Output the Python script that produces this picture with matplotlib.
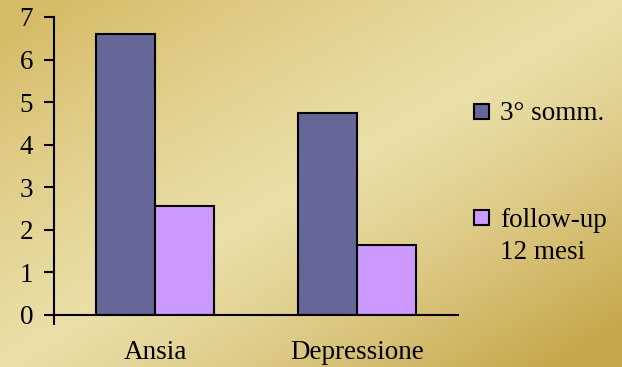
import numpy as np
import matplotlib
matplotlib.use('Agg')
import matplotlib.pyplot as plt
from matplotlib.patches import Rectangle

categories = ['Ansia', 'Depressione']
series_names = ['3° somm.', 'follow-up\n12 mesi']
baseline = [6.6, 4.75]
followup = [2.55, 1.65]
colors = ['#666699', '#cc99ff']
yticks = [0, 1, 2, 3, 4, 5, 6, 7]

plt.rcParams['font.family'] = ['Liberation Serif', 'DejaVu Serif']
fs = 19.5

fig = plt.figure(figsize=(6.22, 3.67), dpi=100)

# gold background, lighter along the diagonal from bottom-left to top-right
bg = fig.add_axes([0, 0, 1, 1], zorder=0)
h, w = 367, 622
yy, xx = np.mgrid[0:h, 0:w]
diag = xx / w + yy / h - 1.0
d = np.clip(np.abs(diag) / 0.9, 0, 1) ** 1.2
light = np.array([234, 223, 168]) / 255
dark_tl = np.array([214, 188, 104]) / 255
dark_br = np.array([198, 166, 74]) / 255
dark = np.where(diag[..., None] > 0, dark_br, dark_tl)
img = light * (1 - d[..., None]) + dark * d[..., None]
bg.imshow(img, aspect='auto', extent=[0, 1, 0, 1])
bg.axis('off')

ax = fig.add_axes([54 / 622, 52 / 367, 404 / 622, 298 / 367], zorder=1)
ax.patch.set_alpha(0)

x = np.arange(len(categories))
width = 0.29
ax.bar(x - width / 2, baseline, width, color=colors[0],
       edgecolor='black', linewidth=1.5)
ax.bar(x + width / 2, followup, width, color=colors[1],
       edgecolor='black', linewidth=1.5)

ax.set_xlim(-0.5, 1.5)
ax.set_ylim(0, 7)
ax.set_yticks(yticks)
ax.set_xticks(x)
ax.set_xticklabels(categories)
ax.set_xticks([-0.5], minor=True)
ax.tick_params(axis='x', which='major', length=0, pad=18, labelsize=fs)
ax.tick_params(axis='x', which='minor', length=7, width=1.5, direction='out')
ax.tick_params(axis='y', length=7, width=1.5, direction='out', pad=8,
               labelsize=fs)
for s in ['top', 'right']:
    ax.spines[s].set_visible(False)
for s in ['left', 'bottom']:
    ax.spines[s].set_linewidth(1.5)

# legend drawn by hand so the square sits on the first text line
legend_y = [111, 217]
text_base = [120, 227]
line_step = 32
for name, col, ly, tb in zip(series_names, colors, legend_y, text_base):
    fig.add_artist(Rectangle((474 / 622, (367 - ly - 7.5) / 367), 15 / 622,
                             15 / 367, transform=fig.transFigure,
                             facecolor=col, edgecolor='black', linewidth=1.5,
                             zorder=3))
    for i, line in enumerate(name.split('\n')):
        fig.text(500 / 622, (367 - tb - i * line_step) / 367, line,
                 fontsize=fs, va='baseline', ha='left')

fig.savefig('out.png', dpi=100)
